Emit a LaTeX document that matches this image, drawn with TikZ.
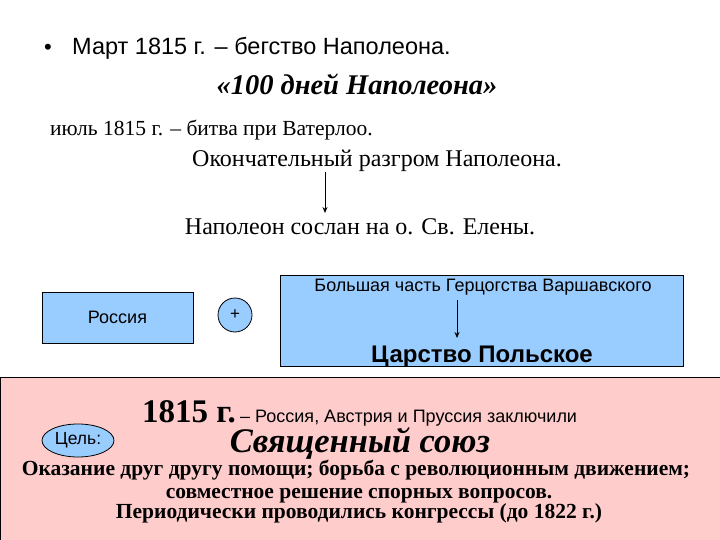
\documentclass[tikz,border=0pt]{standalone}
\usepackage{fontspec}
\setmainfont{Liberation Serif}
\setsansfont{Liberation Sans}
\usetikzlibrary{arrows.meta,shapes.geometric}
\definecolor{boxblue}{RGB}{153,204,255}
\definecolor{pinkbg}{RGB}{255,204,204}
\newcommand{\fsz}[1]{\fontsize{#1}{#1}\selectfont}
\tikzset{
  txt/.style={inner sep=0pt, anchor=base},
  txtw/.style={inner sep=0pt, anchor=base west},
  bluebox/.style={draw=black, fill=boxblue, line width=0.8pt},
  arr/.style={-{Stealth[length=6pt,width=5pt]}, line width=0.8pt}
}
\begin{document}
\begin{tikzpicture}[x=1pt,y=-1pt]
\useasboundingbox (0,0) rectangle (720,540);
\fill[white] (0,0) rectangle (720,540);
% top texts
\node[txt, font=\sffamily\fsz{22}] (bul) at (48,55) {•};
\node[txtw, font=\sffamily\fsz{23.5}] (t1) at (72,55) {Март 1815 г. – бегство Наполеона.};
\node[txt, font=\bfseries\itshape\fsz{28.5}] (t2) at (357,95) {«100 дней Наполеона»};
\node[txtw, font=\fsz{21.5}] (t3) at (50,136) {июль 1815 г. – битва при Ватерлоо.};
\node[txt, font=\fsz{24}] (t4) at (377,167) {Окончательный разгром Наполеона.};
\node[txt, font=\fsz{24}] (t5) at (360,234) {Наполеон сослан на о. Св. Елены.};
\coordinate (a1) at (325,172);
\coordinate (a2) at (325,213);
\draw[arr] (a1) -- (a2);
% middle boxes
\node[bluebox, minimum width=151pt, minimum height=51pt, inner sep=0pt, font=\sffamily\fsz{18}] (ru) at (117.5,317.5) {Россия};
\node[bluebox, circle, minimum size=34pt, inner sep=0pt, font=\sffamily\fsz{17}] (plus) at (235,315) {+};
\node[bluebox, minimum width=403pt, minimum height=91pt, inner sep=0pt] (pl) at (481.5,320.5) {};
\node[txt, font=\sffamily\fsz{18}] (gv) at (483,291) {Большая часть Герцогства Варшавского};
\node[txt, font=\sffamily\bfseries\fsz{24}] (cp) at (482,362) {Царство Польское};
\coordinate (b1) at (457,300);
\coordinate (b2) at (457,338);
\draw[arr] (b1) -- (b2);
% pink area
\draw[fill=pinkbg, draw=black, line width=0.8pt] (0.5,377) rectangle (730,550);
\node[txtw, font=\bfseries\fsz{33}] (y1815) at (142,422) {1815 г.};
\node[txtw, font=\sffamily\fsz{18}] (ral) at (240,422) {– Россия, Австрия и Пруссия заключили};
\node[bluebox, ellipse, minimum width=72pt, minimum height=33pt, inner sep=0pt, font=\sffamily\fsz{17.5}] (goal) at (78,440.5) {Цель:};
\node[txt, font=\bfseries\itshape\fsz{34.5}] (ss) at (360,452) {Священный союз};
\node[txt, font=\bfseries\fsz{21.5}] (g1) at (356,475) {Оказание друг другу помощи; борьба с революционным движением;};
\node[txt, font=\bfseries\fsz{21.5}] (g2) at (359,498) {совместное решение спорных вопросов.};
\node[txt, font=\bfseries\fsz{21.5}] (g3) at (359,518) {Периодически проводились конгрессы (до 1822 г.)};
\end{tikzpicture}
\end{document}
